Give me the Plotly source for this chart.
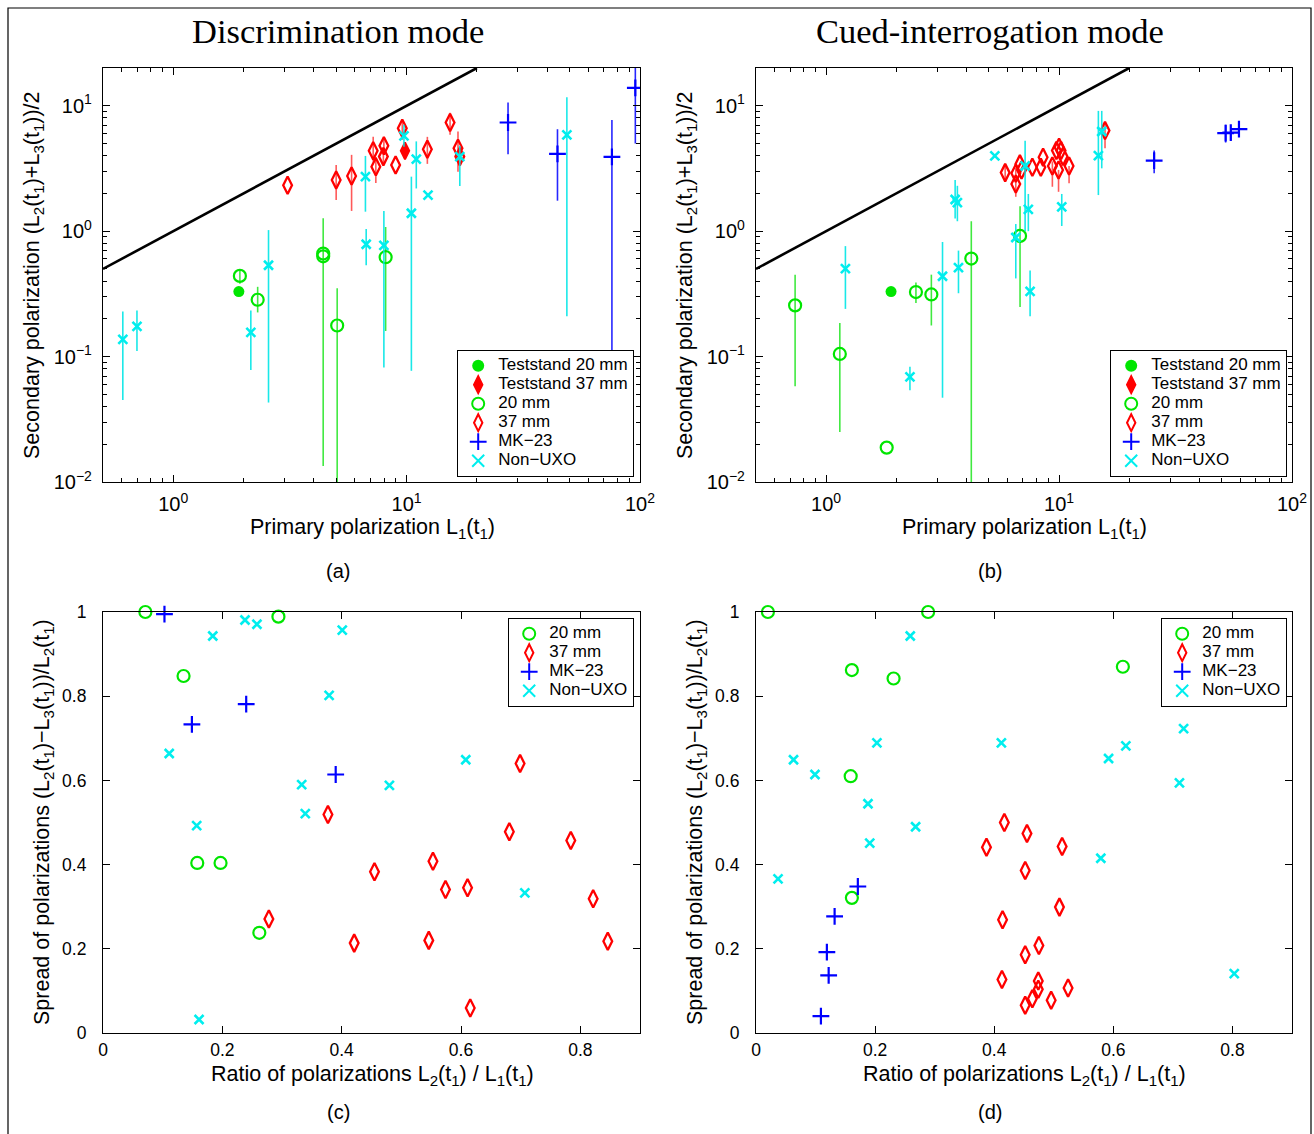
import plotly.graph_objects as go
import numpy as np

W, H = 1314, 1134
GREEN = "#00e600"
RED = "#ff0000"
BLUE = "#0000ff"
CYAN = "#00eeee"

# ---------------- Panel (a): Discrimination mode ----------------
a_ts20_x = [1.91]
a_ts20_y = [0.33]
a_ts37_x = [9.84]
a_ts37_y = [4.37]
a_ts37_hi = [4.9]
a_ts37_lo = [3.9]

a_20_x = [1.93, 2.30, 4.39, 4.39, 5.04, 8.13]
a_20_y = [0.44, 0.284, 0.663, 0.63, 0.177, 0.62]
a_20_hi = [0.50, 0.36, 1.27, 0.63, 0.35, 1.08]
a_20_lo = [0.38, 0.225, 0.0134, 0.63, 0.003, 0.16]

a_37_x = [3.09, 4.99, 5.81, 7.19, 7.38, 7.99, 7.95, 8.97, 9.58, 12.27, 15.35, 16.6, 16.9]
a_37_y = [2.32, 2.56, 2.75, 4.37, 3.27, 4.79, 3.93, 3.37, 6.63, 4.50, 7.35, 4.59, 3.93]
a_37_hi = [2.32, 3.37, 4.06, 5.65, 3.9, 5.4, 4.5, 3.37, 7.7, 5.65, 8.8, 6.23, 4.4]
a_37_lo = [2.32, 1.77, 1.45, 3.6, 2.42, 4.2, 3.4, 3.37, 5.35, 3.44, 5.86, 2.98, 3.5]

a_mk_x = [27.2, 44.3, 75.8, 95.5]
a_mk_y = [7.35, 4.13, 3.91, 13.9]
a_mk_hi = [10.6, 6.5, 7.7, 25.0]
a_mk_lo = [4.1, 1.75, 0.11, 5.0]

a_nu_x = [0.608, 0.699, 2.15, 2.56, 6.71, 6.66, 7.99, 9.74, 10.48, 11.0, 12.35, 16.9, 48.6]
a_nu_y = [0.137, 0.174, 0.156, 0.535, 0.787, 2.72, 0.77, 5.75, 1.39, 3.75, 1.94, 3.93, 5.86]
a_nu_hi = [0.229, 0.233, 0.233, 1.02, 1.04, 3.98, 1.45, 7.05, 2.72, 5.2, 1.94, 4.79, 11.7]
a_nu_lo = [0.045, 0.111, 0.078, 0.043, 0.535, 1.43, 0.082, 4.72, 0.077, 2.19, 1.94, 2.29, 0.21]

# ---------------- Panel (b): Cued-interrogation mode ----------------
b_ts20_x = [1.90]
b_ts20_y = [0.33]

b_20_x = [0.736, 1.145, 1.82, 2.43, 2.83, 4.20, 6.80]
b_20_y = [0.256, 0.105, 0.0188, 0.327, 0.313, 0.605, 0.917]
b_20_hi = [0.45, 0.185, 0.0188, 0.39, 0.45, 1.20, 1.58]
b_20_lo = [0.058, 0.025, 0.0188, 0.268, 0.177, 0.003, 0.248]

b_37_x = [5.87, 6.52, 6.52, 6.79, 6.9, 7.68, 8.35, 8.54, 9.36, 9.74, 10.0, 10.2, 10.4, 9.95, 11.04, 15.75]
b_37_y = [2.93, 2.38, 2.9, 3.44, 3.08, 3.23, 3.23, 3.89, 3.31, 4.39, 4.67, 4.39, 3.94, 3.08, 3.31, 6.34]
b_37_hi = [3.3, 3.19, 2.9, 3.44, 3.08, 3.23, 3.23, 3.89, 3.6, 4.39, 4.67, 4.39, 3.94, 3.08, 3.31, 7.28]
b_37_lo = [2.6, 1.88, 2.9, 3.44, 3.08, 3.23, 3.23, 3.89, 2.26, 4.39, 4.67, 4.39, 3.94, 2.06, 2.41, 4.59]

b_mk_x = [25.6, 51.9, 54.6, 59.2]
b_mk_y = [3.65, 6.05, 6.1, 6.51]
b_mk_hi = [4.39, 7.06, 6.6, 6.8]
b_mk_lo = [2.9, 5.09, 5.3, 6.2]

b_nu_x = [1.21, 2.29, 3.16, 3.58, 3.66, 3.70, 5.30, 6.52, 7.15, 7.38, 7.51, 10.27, 14.75, 15.25]
b_nu_y = [0.503, 0.069, 0.437, 1.79, 1.69, 0.512, 3.98, 0.89, 3.31, 1.49, 0.331, 1.56, 4.0, 6.23]
b_nu_hi = [0.76, 0.083, 0.82, 2.56, 2.3, 0.70, 3.98, 1.14, 5.25, 1.98, 0.486, 1.98, 9.1, 9.1]
b_nu_lo = [0.24, 0.054, 0.047, 1.26, 1.2, 0.32, 3.98, 0.42, 1.0, 1.0, 0.21, 1.10, 1.94, 3.17]

# reference line y = x
line_x = [0.5, 20.0]
line_y = [0.5, 20.0]

# ---------------- Panel (c) ----------------
c_20_x = [0.071, 0.294, 0.135, 0.158, 0.197, 0.262]
c_20_y = [1.0, 0.989, 0.848, 0.404, 0.404, 0.238]

c_37_x = [0.377, 0.699, 0.681, 0.784, 0.553, 0.455, 0.574, 0.611, 0.8215, 0.278, 0.421, 0.546, 0.846, 0.6155]
c_37_y = [0.519, 0.64, 0.478, 0.457, 0.408, 0.383, 0.341, 0.345, 0.319, 0.271, 0.2135, 0.220, 0.218, 0.0595]

c_mk_x = [0.103, 0.149, 0.240, 0.390]
c_mk_y = [0.995, 0.733, 0.781, 0.614]

c_nu_x = [0.184, 0.238, 0.258, 0.401, 0.379, 0.111, 0.333, 0.339, 0.608, 0.480, 0.157, 0.707, 0.161]
c_nu_y = [0.943, 0.981, 0.971, 0.957, 0.802, 0.664, 0.590, 0.521, 0.649, 0.588, 0.4925, 0.333, 0.032]

# ---------------- Panel (d) ----------------
d_20_x = [0.020, 0.289, 0.161, 0.231, 0.159, 0.616, 0.161]
d_20_y = [1.0, 1.0, 0.862, 0.842, 0.610, 0.870, 0.321]

d_37_x = [0.417, 0.455, 0.387, 0.514, 0.452, 0.5095, 0.414, 0.475, 0.452, 0.413, 0.474, 0.474, 0.464, 0.452, 0.4956, 0.524]
d_37_y = [0.500, 0.474, 0.441, 0.443, 0.386, 0.299, 0.269, 0.208, 0.186, 0.127, 0.1235, 0.104, 0.0816, 0.0658, 0.0777, 0.107]

d_mk_x = [0.171, 0.132, 0.119, 0.122, 0.109]
d_mk_y = [0.348, 0.277, 0.192, 0.137, 0.040]

d_nu_x = [0.037, 0.191, 0.268, 0.579, 0.803, 0.063, 0.099, 0.203, 0.188, 0.259, 0.412, 0.718, 0.621, 0.592, 0.711]
d_nu_y = [0.366, 0.451, 0.490, 0.415, 0.141, 0.649, 0.614, 0.689, 0.5445, 0.943, 0.689, 0.723, 0.682, 0.652, 0.594]

LEG_NAMES = ["Teststand 20 mm", "Teststand 37 mm", "20 mm", "37 mm", "MK\u221223", "Non\u2212UXO"]

fig = go.Figure()

STY = {
    "ts20": dict(symbol="circle", size=11, color=GREEN, line=dict(width=0, color=GREEN)),
    "ts37": dict(symbol="diamond-tall", size=12, color=RED, line=dict(width=2, color=RED)),
    "20": dict(symbol="circle-open", size=12, color=GREEN, line=dict(width=2.2, color=GREEN)),
    "37": dict(symbol="diamond-tall-open", size=12.5, color=RED, line=dict(width=2.3, color=RED)),
    "mk": dict(symbol="cross-thin-open", size=12, color=BLUE, line=dict(width=2.2, color=BLUE)),
    "nu": dict(symbol="x-thin-open", size=9, color=CYAN, line=dict(width=2.6, color=CYAN)),
}
ERRC = {"ts37": "rgba(255,0,0,0.7)", "20": "rgba(0,225,0,0.75)", "37": "rgba(255,0,0,0.65)",
        "mk": "rgba(0,0,255,0.85)", "nu": "rgba(0,230,230,0.9)"}

LEG_TXT = '<span style="font-size:17px">%s</span>'


def add(key, name, x, y, xa, ya, legend, hi=None, lo=None, clip=True):
    kw = {}
    if hi is not None:
        plus = [h - v for h, v in zip(hi, y)]
        minus = [v - l for v, l in zip(y, lo)]
        kw["error_y"] = dict(type="data", symmetric=False, array=plus, arrayminus=minus,
                             width=0, thickness=1.6, color=ERRC[key])
    fig.add_trace(go.Scatter(x=x, y=y, mode="markers", name=LEG_TXT % name, marker=STY[key],
                             xaxis=xa, yaxis=ya, legend=legend, cliponaxis=clip, **kw))


# line y=x
for xa, ya in [("x", "y"), ("x2", "y2")]:
    fig.add_trace(go.Scatter(x=line_x, y=line_y, mode="lines", line=dict(color="black", width=2.6),
                             xaxis=xa, yaxis=ya, showlegend=False))

# panel a
add("ts20", LEG_NAMES[0], a_ts20_x, a_ts20_y, "x", "y", "legend")
add("ts37", LEG_NAMES[1], a_ts37_x, a_ts37_y, "x", "y", "legend", a_ts37_hi, a_ts37_lo)
add("20", LEG_NAMES[2], a_20_x, a_20_y, "x", "y", "legend", a_20_hi, a_20_lo)
add("37", LEG_NAMES[3], a_37_x, a_37_y, "x", "y", "legend", a_37_hi, a_37_lo)
add("mk", LEG_NAMES[4], a_mk_x, a_mk_y, "x", "y", "legend", a_mk_hi, a_mk_lo)
add("nu", LEG_NAMES[5], a_nu_x, a_nu_y, "x", "y", "legend", a_nu_hi, a_nu_lo)

# panel b
add("ts20", LEG_NAMES[0], b_ts20_x, b_ts20_y, "x2", "y2", "legend2")
add("ts37", LEG_NAMES[1], [None], [None], "x2", "y2", "legend2")
add("20", LEG_NAMES[2], b_20_x, b_20_y, "x2", "y2", "legend2", b_20_hi, b_20_lo)
add("37", LEG_NAMES[3], b_37_x, b_37_y, "x2", "y2", "legend2", b_37_hi, b_37_lo)
add("mk", LEG_NAMES[4], b_mk_x, b_mk_y, "x2", "y2", "legend2", b_mk_hi, b_mk_lo)
add("nu", LEG_NAMES[5], b_nu_x, b_nu_y, "x2", "y2", "legend2", b_nu_hi, b_nu_lo)

# panel c
add("20", LEG_NAMES[2], c_20_x, c_20_y, "x3", "y3", "legend3", clip=False)
add("37", LEG_NAMES[3], c_37_x, c_37_y, "x3", "y3", "legend3", clip=False)
add("mk", LEG_NAMES[4], c_mk_x, c_mk_y, "x3", "y3", "legend3", clip=False)
add("nu", LEG_NAMES[5], c_nu_x, c_nu_y, "x3", "y3", "legend3", clip=False)

# panel d
add("20", LEG_NAMES[2], d_20_x, d_20_y, "x4", "y4", "legend4", clip=False)
add("37", LEG_NAMES[3], d_37_x, d_37_y, "x4", "y4", "legend4", clip=False)
add("mk", LEG_NAMES[4], d_mk_x, d_mk_y, "x4", "y4", "legend4", clip=False)
add("nu", LEG_NAMES[5], d_nu_x, d_nu_y, "x4", "y4", "legend4", clip=False)

FONT = "Liberation Sans, Arial, sans-serif"


def px_x(p):
    return p / W


def px_y(p):
    return 1 - p / H


minor_log_x = [m * 10 ** e for e in range(-1, 2) for m in range(2, 10)]
minor_log_y = [m * 10 ** e for e in range(-2, 2) for m in range(2, 10)]

common = dict(showline=True, linecolor="black", linewidth=1.2, mirror="ticks", ticks="inside",
              tickcolor="black", ticklen=7, tickwidth=1.2, showgrid=False, zeroline=False,
              automargin=False, tickfont=dict(family=FONT, size=17.5, color="black"))

logx = dict(common, type="log", range=[np.log10(0.5), 2], tickmode="array",
            tickvals=[1, 10, 100], ticktext=["10<sup>0</sup>", "10<sup>1</sup>", "10<sup>2</sup>"],
            minor=dict(tickmode="array", tickvals=minor_log_x, ticks="inside", ticklen=4,
                       tickcolor="black", showgrid=False),
            tickfont=dict(family=FONT, size=20, color="black"), ticklabelstandoff=4)
logy = dict(common, type="log", range=[-2, np.log10(20)], tickmode="array",
            tickvals=[0.01, 0.1, 1, 10],
            ticktext=["10<sup>\u22122</sup>", "10<sup>\u22121</sup>", "10<sup>0</sup>", "10<sup>1</sup>"],
            minor=dict(tickmode="array", tickvals=minor_log_y, ticks="inside", ticklen=4,
                       tickcolor="black", showgrid=False),
            tickfont=dict(family=FONT, size=20, color="black"), ticklabelstandoff=6)
linx = dict(common, range=[0, 0.9], tickmode="array", tickvals=[0, 0.2, 0.4, 0.6, 0.8],
            ticktext=["0", "0.2", "0.4", "0.6", "0.8"], ticklabelstandoff=1)
liny = dict(common, range=[0, 1], tickmode="array", tickvals=[0, 0.2, 0.4, 0.6, 0.8, 1],
            ticktext=["0", "0.2", "0.4", "0.6", "0.8", "1"], ticklabelstandoff=12)

dxa = [px_x(103), px_x(640)]
dxb = [px_x(756), px_x(1292)]
dyt = [px_y(482), px_y(68)]
dyb = [px_y(1033), px_y(612)]

leg_common = dict(bgcolor="white", bordercolor="black", borderwidth=1.2,
                  font=dict(family=FONT, size=12, color="black"),
                  xanchor="right", yanchor="top", tracegroupgap=0, itemsizing="constant")

fig.update_layout(
    width=W, height=H, margin=dict(l=0, r=0, t=0, b=0, pad=0, autoexpand=False),
    paper_bgcolor="white", plot_bgcolor="white",
    xaxis=dict(logx, domain=dxa, anchor="y"),
    yaxis=dict(logy, domain=dyt, anchor="x"),
    xaxis2=dict(logx, domain=dxb, anchor="y2"),
    yaxis2=dict(logy, domain=dyt, anchor="x2"),
    xaxis3=dict(linx, domain=dxa, anchor="y3"),
    yaxis3=dict(liny, domain=dyb, anchor="x3"),
    xaxis4=dict(linx, domain=dxb, anchor="y4"),
    yaxis4=dict(liny, domain=dyb, anchor="x4"),
    legend=dict(leg_common, x=px_x(634), y=px_y(350)),
    legend2=dict(leg_common, x=px_x(1287), y=px_y(350)),
    legend3=dict(leg_common, x=px_x(634), y=px_y(618)),
    legend4=dict(leg_common, x=px_x(1287), y=px_y(618)),
    showlegend=True,
)

ann = []


def text(x, y, s, size=21.5, angle=0, family=FONT):
    ann.append(dict(x=px_x(x), y=px_y(y), xref="paper", yref="paper", text=s, showarrow=False,
                    textangle=angle, xanchor="center", yanchor="middle",
                    font=dict(family=family, size=size, color="black")))


SERIF = "Liberation Serif, Times New Roman, serif"
text(338, 31, "Discrimination mode", size=34.5, family=SERIF)
text(990, 31, "Cued-interrogation mode", size=34.5, family=SERIF)
xl_ab = "Primary polarization L<sub>1</sub>(t<sub>1</sub>)"
yl_ab = "Secondary polarization (L<sub>2</sub>(t<sub>1</sub>)+L<sub>3</sub>(t<sub>1</sub>))/2"
xl_cd = "Ratio of polarizations L<sub>2</sub>(t<sub>1</sub>) / L<sub>1</sub>(t<sub>1</sub>)"
yl_cd = "Spread of polarizations (L<sub>2</sub>(t<sub>1</sub>)\u2212L<sub>3</sub>(t<sub>1</sub>))/L<sub>2</sub>(t<sub>1</sub>)"
text(372, 528, xl_ab)
text(1024, 528, xl_ab)
text(33, 275, yl_ab, angle=-90)
text(686, 275, yl_ab, angle=-90)
text(372, 1075, xl_cd)
text(1024, 1075, xl_cd)
text(43, 822, yl_cd, angle=-90)
text(696, 822, yl_cd, angle=-90)
text(338, 571, "(a)", size=20)
text(990, 571, "(b)", size=20)
text(338, 1112, "(c)", size=20)
text(990, 1112, "(d)", size=20)
fig.update_layout(annotations=ann)

# outer frame
fig.add_shape(type="rect", xref="paper", yref="paper", x0=px_x(8), x1=px_x(1311),
              y0=-0.01, y1=px_y(8), line=dict(color="black", width=1.2), fillcolor="rgba(0,0,0,0)")

fig.write_html("out.html", config={"displayModeBar": False},
               post_script="document.body.style.margin='0';document.body.style.overflow='hidden';")
